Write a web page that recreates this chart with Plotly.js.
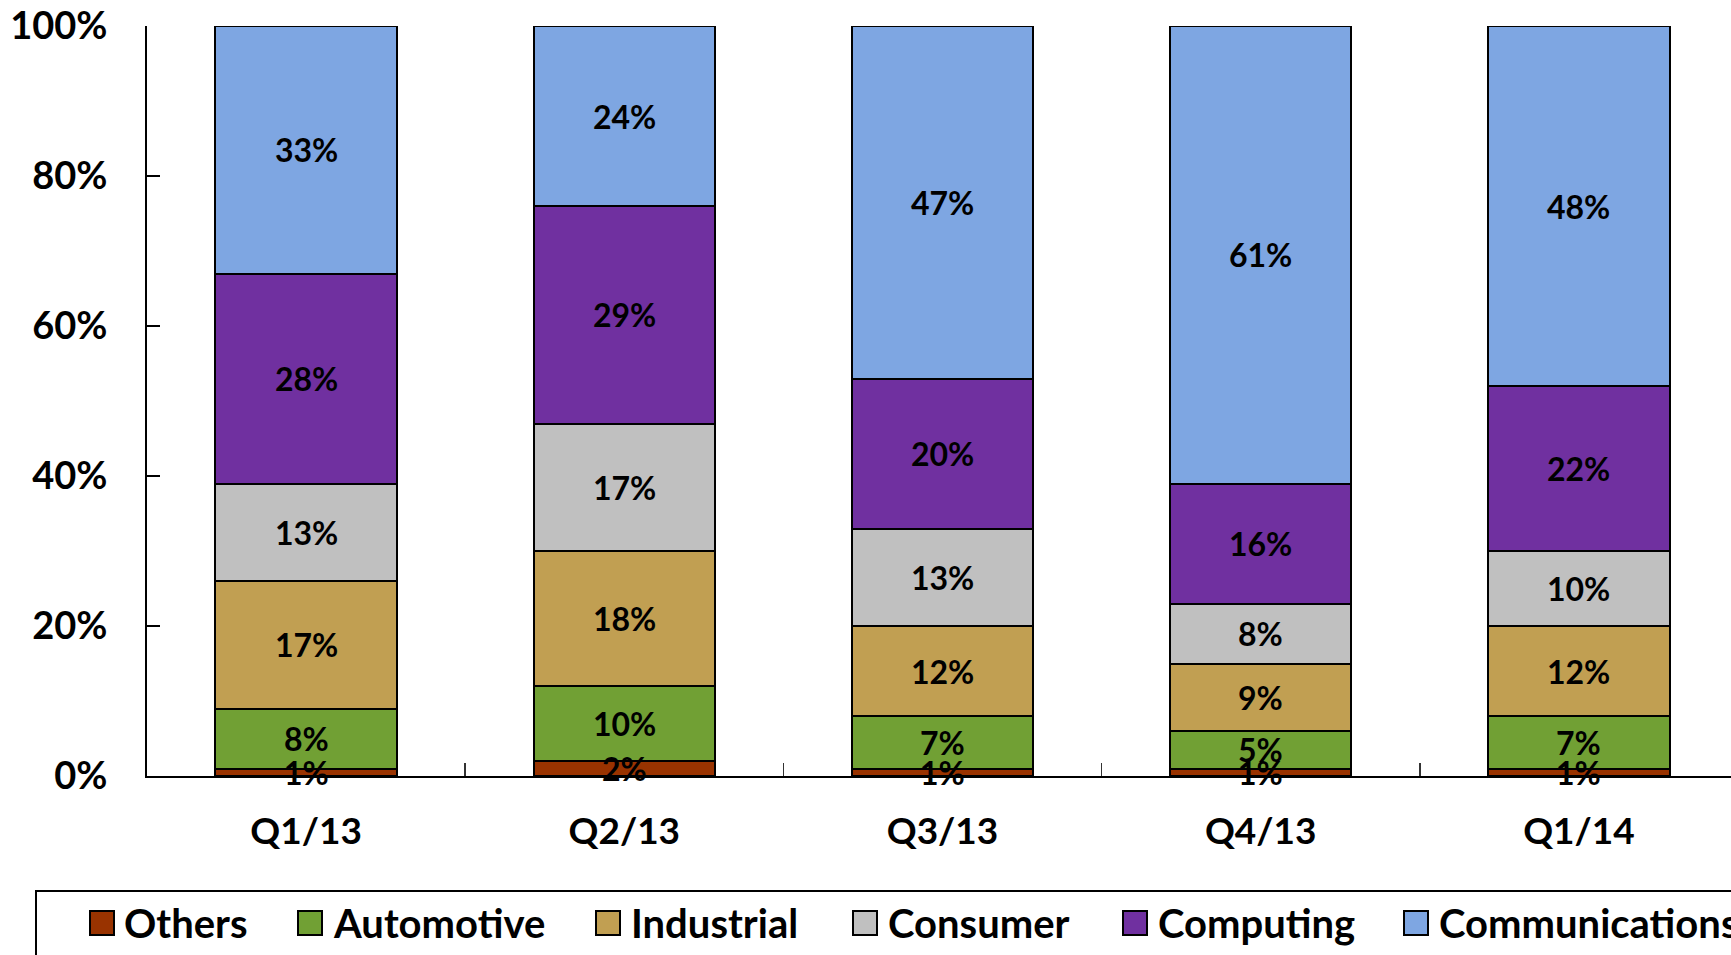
<!DOCTYPE html>
<html>
<head>
<meta charset="utf-8">
<script src="https://cdn.plot.ly/plotly-3.0.1.min.js"></script>
<style>
  html, body { margin: 0; padding: 0; background: #fff; }
  #chart { width: 1731px; height: 955px; }
</style>
</head>
<body>
<div id="chart"></div>
<script>
// Quarterly revenue mix by end market (share of total, %)
const categories = ['Q1/13', 'Q2/13', 'Q3/13', 'Q4/13', 'Q1/14'];
const others = [1, 2, 1, 1, 1];
const automotive = [8, 10, 7, 5, 7];
const industrial = [17, 18, 12, 9, 12];
const consumer = [13, 17, 13, 8, 10];
const computing = [28, 29, 20, 16, 22];
const communications = [33, 24, 47, 61, 48];
const seriesNames = ['Others', 'Automotive', 'Industrial', 'Consumer', 'Computing', 'Communications'];

// Styling
const seriesColors = ['#993300', '#71A034', '#C19F52', '#C0C0C0', '#7030A0', '#7EA6E2'];
const FONT = 'Lato, "Open Sans", sans-serif';

const W = 1731, H = 955;
const M = { l: 147, r: 0, t: 26, b: 179 };
const plotW = W - M.l - M.r, plotH = H - M.t - M.b;
// pixel -> paper helpers for the hand-placed legend
const px = x => (x - M.l) / plotW;
const py = y => (H - M.b - y) / plotH;

const seriesValues = [others, automotive, industrial, consumer, computing, communications];

const traces = seriesValues.map((vals, i) => ({
  type: 'bar',
  name: seriesNames[i],
  x: categories,
  y: vals,
  marker: { color: seriesColors[i], line: { color: '#000', width: 2 } },
  hoverinfo: 'skip',
  showlegend: false
}));

// Segment value labels, centred in each stacked segment and drawn above all bars
// so the thin bottom segments keep their labels visible.
const annotations = [];
const running = categories.map(() => 0);
seriesValues.forEach(vals => {
  vals.forEach((v, j) => {
    annotations.push({
      xref: 'x', yref: 'y', x: categories[j], y: running[j] + v / 2,
      xanchor: 'center', yanchor: 'middle', showarrow: false,
      text: v + '%',
      font: { family: FONT, size: 32, color: '#000', weight: 700 }
    });
    running[j] += v;
  });
});

// Legend: swatch + label per series, inside a framed box along the bottom
const legendSwatchX = [90, 298, 596, 853, 1123, 1404];
const legendTextX = [122, 331, 629, 886, 1156, 1437];
const legendY = 923, sw = 24;

const shapes = [{
  type: 'rect', xref: 'paper', yref: 'paper',
  x0: px(36), x1: px(1780), y0: py(891), y1: py(1000),
  line: { color: '#000', width: 2 }, fillcolor: 'rgba(0,0,0,0)'
}];
seriesNames.forEach((name, i) => {
  shapes.push({
    type: 'rect', xref: 'paper', yref: 'paper',
    x0: px(legendSwatchX[i]), x1: px(legendSwatchX[i] + sw),
    y0: py(legendY + sw / 2), y1: py(legendY - sw / 2),
    fillcolor: seriesColors[i], line: { color: '#000', width: 2 }
  });
  annotations.push({
    xref: 'paper', yref: 'paper', x: px(legendTextX[i]), y: py(legendY),
    xanchor: 'left', yanchor: 'middle', showarrow: false,
    text: name, font: { family: FONT, size: 40, color: '#000', weight: 700 }
  });
});

const layout = {
  width: W, height: H,
  margin: M,
  paper_bgcolor: '#fff', plot_bgcolor: '#fff',
  barmode: 'stack',
  bargap: 0.43,
  showlegend: false,
  font: { family: FONT, size: 36, color: '#000', weight: 700 },
  xaxis: {
    type: 'category',
    range: [-0.5, 4.478],
    showline: true, linecolor: '#000', linewidth: 2,
    ticks: 'inside', tickson: 'boundaries', ticklen: 13, tickwidth: 1.5, tickcolor: '#333',
    showgrid: false, zeroline: false,
    tickfont: { family: FONT, size: 37, color: '#000', weight: 700 },
    ticklabelstandoff: 22
  },
  yaxis: {
    range: [0, 100],
    dtick: 20, tick0: 0,
    ticksuffix: '%',
    showline: true, linecolor: '#000', linewidth: 2,
    ticks: 'inside', ticklen: 13, tickwidth: 2, tickcolor: '#000',
    showgrid: false, zeroline: false,
    tickfont: { family: FONT, size: 38, color: '#000', weight: 700 },
    ticklabelstandoff: 30
  },
  shapes: shapes,
  annotations: annotations
};

Plotly.newPlot('chart', traces, layout, { staticPlot: true, displayModeBar: false });
</script>
</body>
</html>
